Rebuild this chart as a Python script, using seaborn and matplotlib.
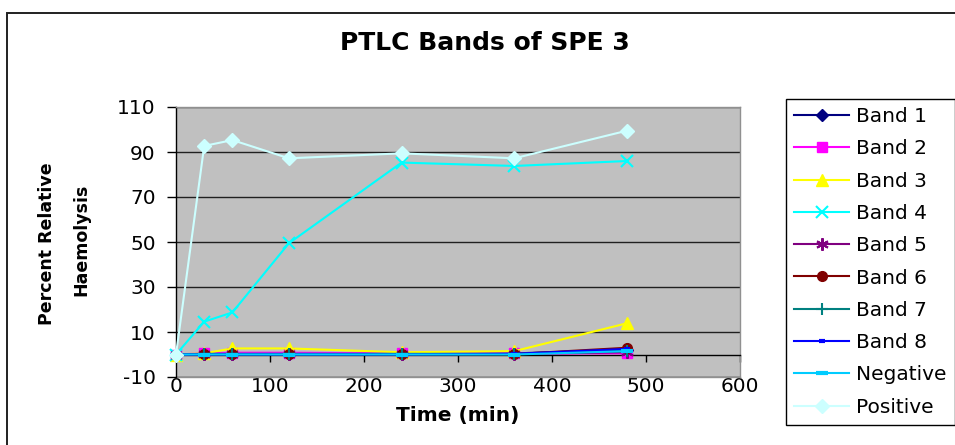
import matplotlib
matplotlib.use("Agg")
import matplotlib.pyplot as plt
import matplotlib.patches as mpatches
import seaborn as sns
import pandas as pd

# Sampling times (min)
time_min = [0, 30, 60, 120, 240, 360, 480]

# Percent relative haemolysis for each fraction
band_1 = [0, 0.3, 0.3, 0.3, 0.3, 0.5, 2.0]
band_2 = [0, 0.5, 0.8, 0.8, 0.5, 0.5, 0.5]
band_3 = [0, 0.5, 2.7, 2.7, 1.0, 1.5, 13.9]
band_4 = [0, 14.6, 18.7, 49.4, 85.3, 83.8, 86.0]
band_5 = [0, 0.2, 0.2, 0.2, 0.2, 0.2, 1.0]
band_6 = [0, 0.2, 0.2, 0.2, 0.2, 0.2, 3.0]
band_7 = [0, 0.3, 0.3, 0.3, 0.3, 0.3, 1.5]
band_8 = [0, 0.0, 0.0, 0.0, 0.0, 0.3, 2.5]
negative = [0, 0.0, 0.0, 0.0, 0.0, 0.0, 1.5]
positive = [0, 92.7, 95.3, 87.2, 89.4, 87.2, 99.5]

series_names = ["Band 1", "Band 2", "Band 3", "Band 4", "Band 5",
                "Band 6", "Band 7", "Band 8", "Negative", "Positive"]
series_values = [band_1, band_2, band_3, band_4, band_5,
                 band_6, band_7, band_8, negative, positive]

x_ticks = [0, 100, 200, 300, 400, 500, 600]
y_ticks = [-10, 10, 30, 50, 70, 90, 110]

# Long-form table for seaborn
df = pd.DataFrame({
    "time": [t for _ in series_names for t in time_min],
    "value": [v for vals in series_values for v in vals],
    "series": [n for n in series_names for _ in time_min],
})

styles = {
    "Band 1":   dict(color="#000080", marker="D", ms=6.5, mew=1),
    "Band 2":   dict(color="#FF00FF", marker="s", ms=6.5, mew=1),
    "Band 3":   dict(color="#FFFF00", marker="^", ms=8, mew=1),
    "Band 4":   dict(color="#00FFFF", marker="x", ms=9, mew=1.5),
    "Band 5":   dict(color="#800080", marker=(6, 2, 0), ms=9, mew=1.5),
    "Band 6":   dict(color="#800000", marker="o", ms=7, mew=1),
    "Band 7":   dict(color="#008080", marker="+", ms=9, mew=1.5),
    "Band 8":   dict(color="#0000FF", marker="_", ms=5, mew=3),
    "Negative": dict(color="#00CCFF", marker="_", ms=9, mew=3),
    "Positive": dict(color="#CCFFFF", marker="D", ms=7, mew=1),
}

plt.rcParams["font.family"] = ["DejaVu Sans"]
plt.rcParams["axes.unicode_minus"] = False

W, H = 955, 445
fig = plt.figure(figsize=(W / 100, H / 100), dpi=100)
fig.patch.set_facecolor("white")

def fx(px):
    return px / W

def fy(py):
    return 1 - py / H

ax = fig.add_axes([fx(176), fy(377), fx(740) - fx(176), fy(107) - fy(377)])
ax.set_facecolor("#C0C0C0")

for name in series_names:
    st = styles[name]
    sub = df[df["series"] == name]
    sns.lineplot(data=sub, x="time", y="value", ax=ax, color=st["color"],
                 marker=st["marker"], markersize=st["ms"],
                 markeredgecolor=st["color"], markerfacecolor=st["color"],
                 markeredgewidth=st["mew"], linewidth=1.5, label=name,
                 estimator=None, sort=False, clip_on=False, zorder=3)

ax.set_xlim(0, 600)
ax.set_ylim(-10, 110)
ax.set_xlabel("")
ax.set_ylabel("")

# Horizontal gridlines
ax.set_yticks(y_ticks)
ax.yaxis.grid(True, color="#202020", linewidth=1)
ax.xaxis.grid(False)
ax.set_axisbelow(True)

# Y axis: black line with outward ticks
ax.spines["left"].set_color("black")
ax.spines["left"].set_linewidth(1)
ax.tick_params(axis="y", direction="out", length=6.5, width=1, pad=8,
               labelsize=14.5, colors="black")

# X axis line crosses at y = 0, labels sit below the plot area
ax.spines["bottom"].set_position(("data", 0))
ax.spines["bottom"].set_color("black")
ax.spines["bottom"].set_linewidth(1)
ax.set_xticks(x_ticks)
ax.tick_params(axis="x", direction="out", length=5, width=1,
               labelbottom=False)

for s in ("top", "right"):
    ax.spines[s].set_color("#909090")
    ax.spines[s].set_linewidth(1)

sec = ax.secondary_xaxis(0)
sec.set_xticks(x_ticks)
sec.tick_params(axis="x", length=0, pad=0, labelsize=14.5)
sec.spines["bottom"].set_color("#909090")
sec.spines["bottom"].set_linewidth(1)

# Legend box running to the right edge
handles, labels = ax.get_legend_handles_labels()
if ax.legend_:
    ax.legend_.remove()
leg = fig.legend(handles, labels, loc="upper left",
                 bbox_to_anchor=(fx(786), fy(99)), bbox_transform=fig.transFigure,
                 borderaxespad=0, frameon=True, fancybox=False, shadow=False,
                 fontsize=14.5, handlelength=2.75, handletextpad=0.35,
                 labelspacing=0.66, borderpad=0.4, framealpha=1)
leg.get_frame().set_edgecolor("black")
leg.get_frame().set_linewidth(1)

# Titles and axis labels
fig.text(fx(485), fy(43), "PTLC Bands of SPE 3", ha="center", va="center",
         fontsize=18, fontweight="bold")
fig.text(fx(458), fy(415), "Time (min)", ha="center", va="center",
         fontsize=14.5, fontweight="bold")
fig.text(fx(47.5), fy(244), "Percent Relative", ha="center", va="center",
         rotation=90, fontsize=12.5, fontweight="bold")
fig.text(fx(81), fy(240), "Haemolysis", ha="center", va="center",
         rotation=90, fontsize=12.5, fontweight="bold")

# Outer chart border
fig.patches.append(mpatches.Rectangle((fx(7), -0.1), 1.2, fy(13) + 0.1,
                                      transform=fig.transFigure, fill=False,
                                      edgecolor="#202020", linewidth=1.4))

fig.savefig("out.png", dpi=100, facecolor="white")
